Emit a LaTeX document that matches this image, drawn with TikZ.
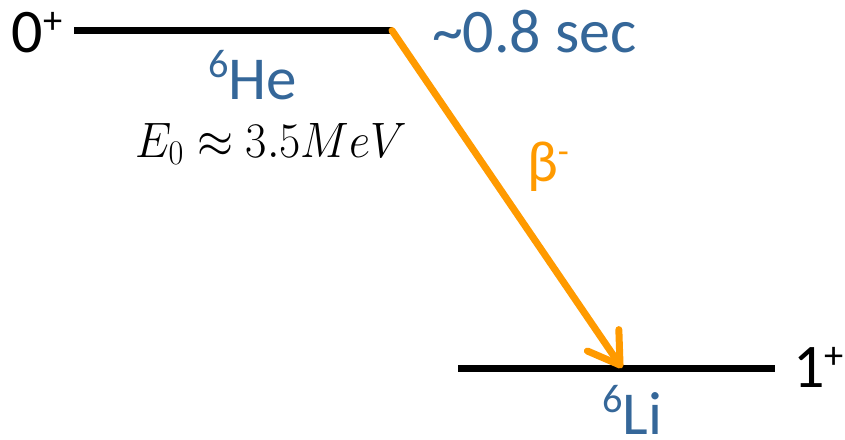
\documentclass[tikz,border=0pt]{standalone}
\usepackage{fontspec}
\setmainfont{Carlito}
\usetikzlibrary{arrows.meta}
\definecolor{lvlblue}{RGB}{53,103,153}
\definecolor{betaorange}{RGB}{255,154,0}
\newcommand\upidx[1]{\raisebox{0.3em}{\scalebox{0.62}{#1}}}
\newcommand\upnum[1]{\raisebox{0.36em}{\scalebox{0.66}{#1}}}
\tikzset{
  level/.style={line width=7pt, black},
  txt/.style={inner sep=0pt, outer sep=0pt, anchor=base west},
  bigtxt/.style={txt, font=\fontsize{62}{70}\selectfont},
  nuc/.style={txt, text=lvlblue, font=\fontsize{61}{70}\selectfont},
  decay/.style={line width=7pt, betaorange, line cap=round,
    -{Straight Barb[length=30pt, width=38pt, line cap=round, line join=round]}}
}
\begin{document}
\begin{tikzpicture}[x=1pt,y=-1pt]
\useasboundingbox (0,0) rectangle (845,439);
% levels
\coordinate (hel) at (74,30.5);
\coordinate (her) at (392,30.5);
\coordinate (lil) at (458,368);
\coordinate (lir) at (775,368);
\coordinate (tip) at (622,368);
\draw[level] (hel) -- (her);
\draw[level] (lil) -- (lir);
% decay arrow
\draw[decay] (her) -- (tip);
% labels
\node[bigtxt] (spin0) at (12,52) {0\upidx{+}};
\node[bigtxt] (spin1) at (793,387) {1\upidx{+}};
\node[bigtxt, text=lvlblue] (life) at (432,52) {\char`~0.8 sec};
\node[nuc] (he) at (208,99) {\upnum{6}He};
\node[nuc] (li) at (602,434) {\upnum{6}Li};
\node[txt] (e0) at (135,157) {\scalebox{1.86}[2]{\fontsize{23.5}{28}\selectfont$E_0\approx 3.5MeV$}};
\node[txt, text=betaorange, font=\fontsize{58}{66}\selectfont] (beta) at (527,181) {β\upidx{-}};
\end{tikzpicture}
\end{document}
